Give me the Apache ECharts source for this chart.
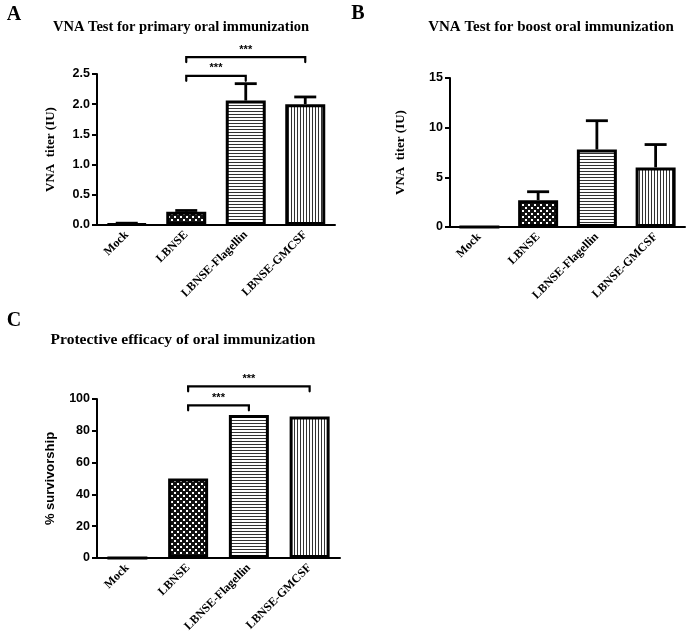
<!DOCTYPE html>
<html>
<head>
<meta charset="utf-8">
<script src="https://cdn.jsdelivr.net/npm/echarts@6/dist/echarts.min.js"></script>
<style>
html, body { margin: 0; padding: 0; background: #fff; }
#chart { width: 697px; height: 644px; }
</style>
</head>
<body>
<div id="chart"></div>
<script>
var groups = ['Mock', 'LBNSE', 'LBNSE-Flagellin', 'LBNSE-GMCSF'];

// A - primary oral immunization (VNA titer, IU)
var primaryMean = [0.02, 0.22, 2.06, 2.00];
var primaryTop = [0.03, 0.24, 2.34, 2.12];   // mean + error
var primarySig = [[1, 2, 2.47, '***'], [1, 3, 2.78, '***']];

// B - boost oral immunization
var boostMean = [0, 2.7, 7.8, 6.0];
var boostTop = [0, 3.55, 10.7, 8.3];

// C - protective efficacy (% survivorship)
var survival = [0, 50, 90, 89];
var survivalSig = [[1, 2, 96, '***'], [1, 3, 108, '***']];

var serif = 'Liberation Serif';
var sans = 'Liberation Sans';

// fill patterns for the bars
function pattern(kind) {
  var c = document.createElement('canvas');
  var ctx = c.getContext('2d');
  if (kind === 'check') {
    c.width = 6; c.height = 6;
    ctx.fillStyle = '#111'; ctx.fillRect(0, 0, 6, 6);
    ctx.fillStyle = '#fff';
    ctx.fillRect(0, 0, 2, 2); ctx.fillRect(3, 3, 2, 2);
  } else if (kind === 'hstripe') {
    c.width = 4; c.height = 3;
    ctx.fillStyle = '#fff'; ctx.fillRect(0, 0, 4, 3);
    ctx.fillStyle = '#333'; ctx.fillRect(0, 0, 4, 1);
  } else if (kind === 'vstripe') {
    c.width = 3; c.height = 4;
    ctx.fillStyle = '#fff'; ctx.fillRect(0, 0, 3, 4);
    ctx.fillStyle = '#333'; ctx.fillRect(0, 0, 1, 4);
  }
  return { image: c, repeat: 'repeat' };
}
var fills = ['#fff', pattern('check'), pattern('hstripe'), pattern('vstripe')];

function barSeries(gi, values) {
  return {
    type: 'bar', xAxisIndex: gi, yAxisIndex: gi, barWidth: 40, z: 3,
    data: values.map(function (v, i) {
      return { value: v, itemStyle: { color: fills[i] } };
    }),
    itemStyle: { borderColor: '#000', borderWidth: 3 }
  };
}

function errorSeries(gi, means, tops) {
  return {
    type: 'custom', xAxisIndex: gi, yAxisIndex: gi, z: 2, silent: true,
    data: means.map(function (m, i) { return [i, m, tops[i]]; }),
    encode: { x: 0, y: [1, 2] },
    renderItem: function (params, api) {
      if (api.value(2) <= api.value(1)) return;
      var lo = api.coord([api.value(0), api.value(1)]);
      var hi = api.coord([api.value(0), api.value(2)]);
      var st = { stroke: '#000', lineWidth: 2.8 };
      return {
        type: 'group', children: [
          { type: 'line', shape: { x1: lo[0], y1: lo[1], x2: hi[0], y2: hi[1] }, style: st },
          { type: 'line', shape: { x1: hi[0] - 11, y1: hi[1], x2: hi[0] + 11, y2: hi[1] }, style: st }
        ]
      };
    }
  };
}

function sigSeries(gi, sig) {
  return {
    type: 'custom', xAxisIndex: gi, yAxisIndex: gi, silent: true, clip: false,
    data: sig.map(function (s) { return [s[0], s[1], s[2]]; }),
    encode: { x: [0, 1], y: 2 },
    renderItem: function (params, api) {
      var a = api.coord([api.value(0), api.value(2)]);
      var b = api.coord([api.value(1), api.value(2)]);
      return {
        type: 'group', children: [
          {
            type: 'polyline',
            shape: { points: [[a[0], a[1] + 5], [a[0], a[1]], [b[0], b[1]], [b[0], b[1] + 5]] },
            style: { stroke: '#000', fill: null, lineWidth: 2.2, lineCap: 'round' }
          },
          {
            type: 'text',
            style: {
              text: sig[params.dataIndex][3], x: (a[0] + b[0]) / 2, y: a[1] - 2,
              align: 'center', verticalAlign: 'bottom',
              font: 'bold 11px "' + sans + '"', fill: '#000'
            }
          }
        ]
      };
    }
  };
}

function xAx(gi) {
  return {
    type: 'category', gridIndex: gi, data: groups,
    axisLine: { lineStyle: { color: '#000', width: 2 } },
    axisTick: { alignWithLabel: true, length: 5, lineStyle: { color: '#000', width: 2 } },
    axisLabel: {
      rotate: 45, interval: 0, margin: 8, color: '#000',
      fontFamily: serif, fontWeight: 'bold', fontSize: 12
    }
  };
}

function yAx(gi, max, interval, name, gap, nameFont, digits) {
  return {
    type: 'value', gridIndex: gi, min: 0, max: max, interval: interval,
    name: name, nameLocation: 'middle', nameGap: gap,
    nameTextStyle: { color: '#000', fontFamily: nameFont, fontWeight: 'bold', fontSize: 13 },
    axisLine: { show: true, lineStyle: { color: '#000', width: 2 } },
    axisTick: { show: true, length: 5, lineStyle: { color: '#000', width: 2 } },
    axisLabel: {
      color: '#000', fontFamily: sans, fontWeight: 'bold', fontSize: 12.5, margin: 7,
      formatter: function (v) { return v.toFixed(digits); }
    },
    splitLine: { show: false }
  };
}

function label(text, x, y, size) {
  return {
    type: 'text', x: x, y: y,
    style: { text: text, font: 'bold ' + size + 'px "' + serif + '"', fill: '#000', align: 'center', verticalAlign: 'middle' }
  };
}

var chart = echarts.init(document.getElementById('chart'));
chart.setOption({
  animation: false,
  backgroundColor: '#fff',
  graphic: [
    label('A', 14, 15, 20),
    label('B', 358, 14, 20),
    label('C', 14, 321, 20),
    label('VNA Test for primary oral immunization', 181, 27, 14.5),
    label('VNA Test for boost oral immunization', 551, 27, 15),
    label('Protective efficacy of oral immunization', 183, 340, 15.5)
  ],
  grid: [
    { left: 97, right: 362, top: 74, bottom: 419 },
    { left: 450, right: 12, top: 78, bottom: 417 },
    { left: 97, right: 357, top: 399, bottom: 86 }
  ],
  xAxis: [xAx(0), xAx(1), xAx(2)],
  yAxis: [
    yAx(0, 2.5, 0.5, 'VNA  titer (IU)', 40, serif, 1),
    yAx(1, 15, 5, 'VNA  titer (IU)', 43, serif, 0),
    yAx(2, 100, 20, '% survivorship', 40, sans, 0)
  ],
  series: [
    barSeries(0, primaryMean),
    errorSeries(0, primaryMean, primaryTop),
    sigSeries(0, primarySig),
    barSeries(1, boostMean),
    errorSeries(1, boostMean, boostTop),
    barSeries(2, survival),
    sigSeries(2, survivalSig)
  ]
});
</script>
</body>
</html>
